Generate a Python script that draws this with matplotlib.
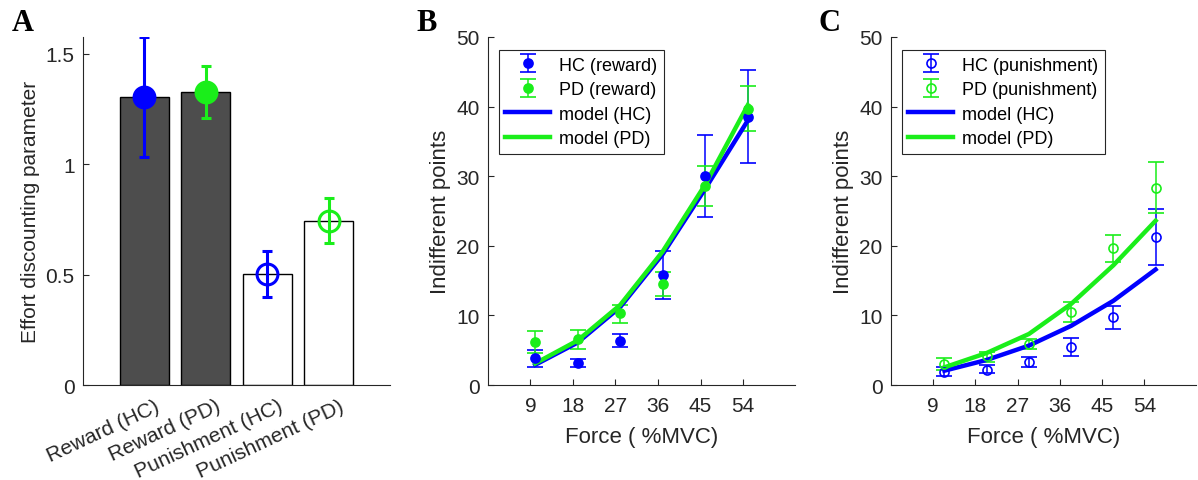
import numpy as np
import matplotlib.pyplot as plt
import matplotlib.transforms as mtransforms

plt.rcParams['font.family'] = ['Liberation Sans', 'DejaVu Sans']

# パネルAのデータ
conditions = ['Reward (HC)', 'Reward (PD)', 'Punishment (HC)', 'Punishment (PD)']
effort_mean = [1.304, 1.326, 0.505, 0.745]
effort_low = [1.033, 1.208, 0.401, 0.644]
effort_high = [1.576, 1.446, 0.609, 0.849]

# パネルB・Cのデータ
force = [9, 18, 27, 36, 45, 54]
force_ticks = [9, 18, 27, 36, 45, 54]

hc_rew = [3.84, 3.16, 6.38, 15.8, 29.96, 38.5]
hc_rew_lo = [2.54, 2.59, 5.47, 12.4, 24.1, 31.9]
hc_rew_hi = [5.08, 3.74, 7.38, 19.3, 35.9, 45.2]
pd_rew = [6.18, 6.6, 10.3, 14.5, 28.6, 39.7]
pd_rew_lo = [4.55, 5.18, 8.96, 12.75, 25.7, 36.5]
pd_rew_hi = [7.81, 7.96, 11.55, 16.3, 31.45, 42.9]
model_hc_rew = [2.9, 6.1, 11.2, 18.8, 28.2, 38.0]
model_pd_rew = [3.1, 6.4, 11.5, 19.2, 28.8, 40.2]

hc_pun = [1.92, 2.2, 3.26, 5.51, 9.73, 21.3]
hc_pun_lo = [1.34, 1.68, 2.54, 4.22, 8.05, 17.3]
hc_pun_hi = [2.54, 2.88, 4.07, 6.8, 11.3, 25.3]
pd_pun = [3.02, 4.1, 5.9, 10.45, 19.65, 28.3]
pd_pun_lo = [2.16, 3.3, 5.2, 9.1, 17.7, 24.7]
pd_pun_hi = [3.88, 4.8, 6.6, 11.9, 21.6, 32.0]
model_hc_pun = [2.06, 3.6, 5.66, 8.5, 12.1, 16.6]
model_pd_pun = [2.54, 4.6, 7.33, 11.65, 17.2, 23.6]

BLUE = '#0000ff'
GREEN = '#1aee1a'
AXC = '#262626'

fig = plt.figure(figsize=(11.98, 4.81), dpi=100)


def style_axes(ax):
    for s in ['top', 'right']:
        ax.spines[s].set_visible(False)
    for s in ['left', 'bottom']:
        ax.spines[s].set_color(AXC)
        ax.spines[s].set_linewidth(0.8)
    ax.tick_params(direction='in', length=4, width=0.8, colors=AXC,
                   labelsize=15, labelcolor=AXC)
    ax.tick_params(axis='y', pad=6)
    ax.tick_params(axis='x', pad=8)


# ---- A ----
axA = fig.add_axes([0.0693, 0.1975, 0.2562, 0.7235])
pos = np.arange(1, 5)
axA.bar(pos, effort_mean, width=0.8, color=['#4d4d4d', '#4d4d4d', 'white', 'white'],
        edgecolor='black', linewidth=1.0, zorder=2)
cols = [BLUE, GREEN, BLUE, GREEN]
fills = [True, True, False, False]
for i in range(4):
    err = [[effort_mean[i] - effort_low[i]], [effort_high[i] - effort_mean[i]]]
    axA.errorbar(pos[i], effort_mean[i], yerr=err, fmt='o', color=cols[i],
                 ms=15, mew=2.2, mfc=cols[i] if fills[i] else 'none',
                 elinewidth=2.2, capsize=3.8, capthick=2.2, zorder=3)
axA.set_xlim(0, 5)
axA.set_ylim(0, 1.577)
axA.set_yticks([0, 0.5, 1, 1.5])
axA.set_yticklabels(['0', '0.5', '1', '1.5'])
axA.set_xticks(pos)
axA.set_xticklabels(conditions, rotation=25, ha='right', va='top', rotation_mode='anchor')
style_axes(axA)
offset = mtransforms.ScaledTranslation(10 / 100, 0, fig.dpi_scale_trans)
for lab in axA.get_xticklabels():
    lab.set_transform(lab.get_transform() + offset)
axA.set_ylabel('Effort discounting parameter', fontsize=15, color=AXC, labelpad=4)


def panel(rect, x_off, hc, hc_lo, hc_hi, pd, pd_lo, pd_hi, m_hc, m_pd, filled, lab_hc, lab_pd):
    ax = fig.add_axes(rect)
    x = np.array(force) + x_off
    mfc_hc = BLUE if filled else 'none'
    mfc_pd = GREEN if filled else 'none'
    e1 = ax.errorbar(x, hc, yerr=[np.array(hc) - hc_lo, np.array(hc_hi) - hc], fmt='o',
                     color=BLUE, mfc=mfc_hc, ms=6.5, mew=1.2, elinewidth=1.1,
                     capsize=6, capthick=1.1, label=lab_hc)
    e2 = ax.errorbar(x, pd, yerr=[np.array(pd) - pd_lo, np.array(pd_hi) - pd], fmt='o',
                     color=GREEN, mfc=mfc_pd, ms=6.5, mew=1.2, elinewidth=1.1,
                     capsize=6, capthick=1.1, label=lab_pd)
    l1, = ax.plot(x, m_hc, color=BLUE, lw=3.2, label='model (HC)')
    l2, = ax.plot(x, m_pd, color=GREEN, lw=3.2, label='model (PD)')
    ax.set_xlim(0, 65)
    ax.set_ylim(0, 50)
    ax.set_xticks(force_ticks)
    ax.set_yticks([0, 10, 20, 30, 40, 50])
    style_axes(ax)
    ax.set_xlabel('Force ( %MVC)', fontsize=16, color=AXC, labelpad=8)
    ax.set_ylabel('Indifferent points', fontsize=16, color=AXC, labelpad=4)
    leg = ax.legend(handles=[e1, e2, l1, l2], loc='upper left',
                    bbox_to_anchor=(0.035, 0.962), fontsize=13, fancybox=False,
                    framealpha=1, edgecolor=AXC, handlelength=2.5,
                    labelspacing=0.42, borderpad=0.35, handletextpad=0.5,
                    borderaxespad=0)
    leg.get_frame().set_linewidth(0.8)
    return ax


panel([0.4073, 0.1975, 0.2563, 0.7235], 1.0, hc_rew, hc_rew_lo, hc_rew_hi,
      pd_rew, pd_rew_lo, pd_rew_hi, model_hc_rew, model_pd_rew, True,
      'HC (reward)', 'PD (reward)')
panel([0.7437, 0.1975, 0.2546, 0.7235], 2.4, hc_pun, hc_pun_lo, hc_pun_hi,
      pd_pun, pd_pun_lo, pd_pun_hi, model_hc_pun, model_pd_pun, False,
      'HC (punishment)', 'PD (punishment)')

# パネル記号
for xl, letter in [(12, 'A'), (416, 'B'), (818, 'C')]:
    fig.text(xl / 1198, 1 - 31 / 481, letter, fontsize=22, fontweight='bold',
             family=['Liberation Serif', 'DejaVu Serif'], va='baseline', ha='left')

fig.savefig('out.png', dpi=100)
